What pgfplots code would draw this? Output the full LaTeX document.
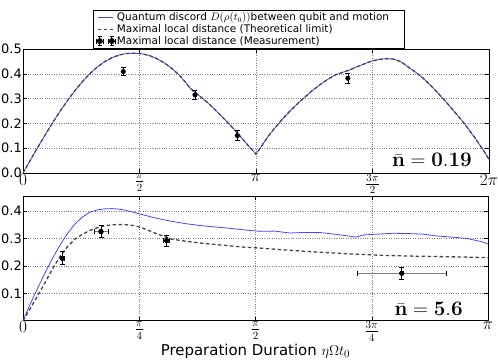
\documentclass[border=0pt]{standalone}
\usepackage[no-math]{fontspec}
\setmainfont{DejaVu Sans}
\usepackage{pgfplots}
\usepackage{pgfplotstable}
\pgfplotsset{compat=1.18}
\definecolor{discord}{RGB}{70,70,255}
\definecolor{limitgray}{RGB}{70,70,70}

% theory curves, nbar = 0.19
\pgfplotstableread{
x      d
0      0.000
0.1    0.052
0.2    0.104
0.3    0.154
0.4    0.203
0.5    0.249
0.6    0.292
0.7    0.332
0.8    0.368
0.9    0.400
1.0    0.427
1.1    0.449
1.2    0.465
1.3    0.476
1.4    0.482
1.5    0.483
1.6    0.481
1.7    0.474
1.8    0.462
1.9    0.445
2.0    0.423
2.1    0.397
2.2    0.363
2.25   0.343
2.3    0.330
2.4    0.306
2.5    0.281
2.6    0.252
2.7    0.222
2.8    0.191
2.9    0.158
3.0    0.123
3.1    0.090
3.1416 0.076
3.2    0.101
3.3    0.146
3.4    0.183
3.5    0.218
3.6    0.250
3.7    0.279
3.8    0.306
3.9    0.332
4.0    0.355
4.1    0.376
4.2    0.394
4.3    0.405
4.4    0.415
4.5    0.428
4.6    0.440
4.7    0.451
4.8    0.458
4.9    0.461
5.0    0.459
5.1    0.448
5.2    0.426
5.3    0.405
5.4    0.381
5.5    0.352
5.6    0.321
5.7    0.288
5.8    0.253
5.9    0.218
6.0    0.180
6.1    0.139
6.2    0.095
6.2832 0.055
}\lowtheory

\pgfplotstableread{
x     y     ey
1.352 0.409 0.016
2.319 0.315 0.020
2.889 0.151 0.020
4.380 0.382 0.020
}\lowmeas

% nbar = 5.6
\pgfplotstableread{
x      d
0      0.000
0.05   0.062
0.1    0.120
0.15   0.176
0.2    0.228
0.25   0.276
0.3    0.318
0.35   0.352
0.4    0.378
0.45   0.395
0.5    0.404
0.55   0.408
0.6    0.409
0.65   0.407
0.7    0.402
0.75   0.395
0.8    0.388
0.9    0.374
1.0    0.363
1.1    0.354
1.2    0.347
1.3    0.342
1.4    0.337
1.5    0.331
1.6    0.326
1.7    0.327
1.8    0.320
1.9    0.322
2.0    0.322
2.1    0.316
2.2    0.309
2.25   0.305
2.3    0.313
2.4    0.316
2.5    0.319
2.6    0.318
2.7    0.316
2.8    0.309
2.9    0.305
3.0    0.300
3.1    0.288
3.1416 0.280
}\highdiscord

\pgfplotstableread{
x      d
0      0.000
0.05   0.045
0.1    0.092
0.15   0.140
0.2    0.190
0.25   0.234
0.3    0.270
0.35   0.297
0.4    0.315
0.45   0.329
0.5    0.339
0.55   0.346
0.6    0.350
0.65   0.351
0.7    0.350
0.75   0.347
0.8    0.340
0.9    0.318
1.0    0.298
1.1    0.290
1.2    0.283
1.3    0.278
1.4    0.273
1.5    0.268
1.6    0.265
1.8    0.257
2.0    0.250
2.2    0.244
2.4    0.239
2.6    0.236
2.8    0.234
3.0    0.232
3.1416 0.230
}\highlimit

\pgfplotstableread{
x     y     ex    ey
0.266 0.228 0.010 0.024
0.527 0.325 0.047 0.022
0.971 0.292 0.020 0.021
2.559 0.173 0.300 0.023
}\highmeas

\newcommand{\legfont}{\fontsize{10.5}{12}\selectfont}

\tikzset{
  discordline/.style={discord, line width=0.8bp},
  limitline/.style={limitgray, line width=1.3bp, dash pattern=on 3.5bp off 2.5bp},
  nbar/.style={anchor=south east, font=\fontsize{20.74}{24}\selectfont, inner sep=0pt},
}

\pgfplotsset{
  panel/.style={
    scale only axis, anchor=south west,
    xmin=0, ymin=0,
    grid=major,
    grid style={dotted, gray, line width=0.5bp},
    axis line style={line width=0.6bp},
    tick align=inside, major tick length=4bp,
    tick style={black, line width=0.5bp},
    xticklabel style={font=\fontsize{16}{18}\selectfont, inner sep=1bp},
    yticklabel style={font=\fontsize{13}{15}\selectfont, inner sep=1bp},
    y tick label style={/pgf/number format/fixed, /pgf/number format/fixed zerofill,
      /pgf/number format/precision=1, /pgf/number format/assume math mode=true},
  },
  measlegend/.style={legend image code/.code={%
    \draw[black, line width=0.8bp]
      (-1.5bp,0bp) -- (5.5bp,0bp) (-1.5bp,-2.5bp) -- (-1.5bp,2.5bp)
      (5.5bp,-2.5bp) -- (5.5bp,2.5bp) (2bp,-4.5bp) -- (2bp,4.5bp)
      (0bp,4.5bp) -- (4bp,4.5bp) (0bp,-4.5bp) -- (4bp,-4.5bp)
      (10.5bp,0bp) -- (17.5bp,0bp) (10.5bp,-2.5bp) -- (10.5bp,2.5bp)
      (17.5bp,-2.5bp) -- (17.5bp,2.5bp) (14bp,-4.5bp) -- (14bp,4.5bp)
      (12bp,4.5bp) -- (16bp,4.5bp) (12bp,-4.5bp) -- (16bp,-4.5bp);
    \fill[black] (2bp,0bp) circle[radius=2.6bp] (14bp,0bp) circle[radius=2.6bp];
  }},
}

\begin{document}
\begin{tikzpicture}
\useasboundingbox (0,0) rectangle (498bp,361bp);

\begin{axis}[panel,
  at={(23bp,188bp)}, width=466bp, height=124bp,
  xmax=6.2832, ymax=0.5,
  xtick={0,1.5708,3.1416,4.7124,6.2832},
  xticklabels={$0$,$\frac{\pi}{2}$,$\pi$,$\frac{3\pi}{2}$,$2\pi$},
  ytick={0,0.1,0.2,0.3,0.4,0.5},
  legend style={at={(0.484,1.006)}, anchor=south, draw=black, line width=0.6bp,
    font=\legfont, nodes={font=\legfont, inner sep=1.2bp},
    cells={anchor=west}, inner xsep=3bp, inner ysep=1bp, row sep=0pt},
]
\addplot[discordline, legend image code/.code={\draw[discordline] (0bp,0bp) -- (15bp,0bp);}]
  table[x=x, y=d] {\lowtheory};
\addlegendentry{\legfont\makebox[283bp][l]{Quantum discord $D(\rho(t_0))$between qubit and motion}}
\addplot[limitline, legend image code/.code={\draw[limitline] (0bp,0bp) -- (15bp,0bp);}]
  table[x=x, y=d] {\lowtheory};
\addlegendentry{\legfont Maximal local distance (Theoretical limit)}
\addplot[measlegend, only marks, mark=*, mark size=2.3bp, black,
  error bars/.cd, y dir=both, y explicit,
  error bar style={line width=0.7bp, black},
  error mark options={rotate=90, mark size=2.5bp, line width=0.7bp},
  ] table[x=x, y=y, y error=ey] {\lowmeas};
\addlegendentry{\legfont Maximal local distance (Measurement)}
\node[nbar] at (rel axis cs:0.9635,0.05)
  {$\bar{\mathbf{n}}\mathrel{\mathbf{=}}\mathbf{0.19}$};
\end{axis}

\begin{axis}[panel,
  at={(23bp,40.3bp)}, width=465bp, height=124.7bp,
  xmax=3.1416, ymax=0.455,
  xtick={0,0.7854,1.5708,2.3562,3.1416},
  xticklabels={$0$,$\frac{\pi}{4}$,$\frac{\pi}{2}$,$\frac{3\pi}{4}$,$\pi$},
  ytick={0.1,0.2,0.3,0.4},
  xlabel={Preparation Duration $\eta\Omega t_0$},
  xlabel style={font=\fontsize{15}{17}\selectfont, inner sep=1bp},
]
\addplot[discordline] table[x=x, y=d] {\highdiscord};
\addplot[limitline] table[x=x, y=d] {\highlimit};
\addplot[only marks, mark=*, mark size=2.3bp, black,
  error bars/.cd, x dir=both, x explicit,
  error bar style={line width=0.9bp, gray},
  error mark options={rotate=90, mark size=2.5bp, line width=0.7bp, black},
  ] table[x=x, y=y, x error=ex] {\highmeas};
\addplot[only marks, mark=*, mark size=2.3bp, black,
  error bars/.cd, y dir=both, y explicit,
  error bar style={line width=0.7bp, black},
  error mark options={rotate=90, mark size=2.5bp, line width=0.7bp},
  ] table[x=x, y=y, y error=ey] {\highmeas};
\node[nbar] at (rel axis cs:0.946,0.04)
  {$\bar{\mathbf{n}}\mathrel{\mathbf{=}}\mathbf{5.6}$};
\end{axis}
\end{tikzpicture}
\end{document}
